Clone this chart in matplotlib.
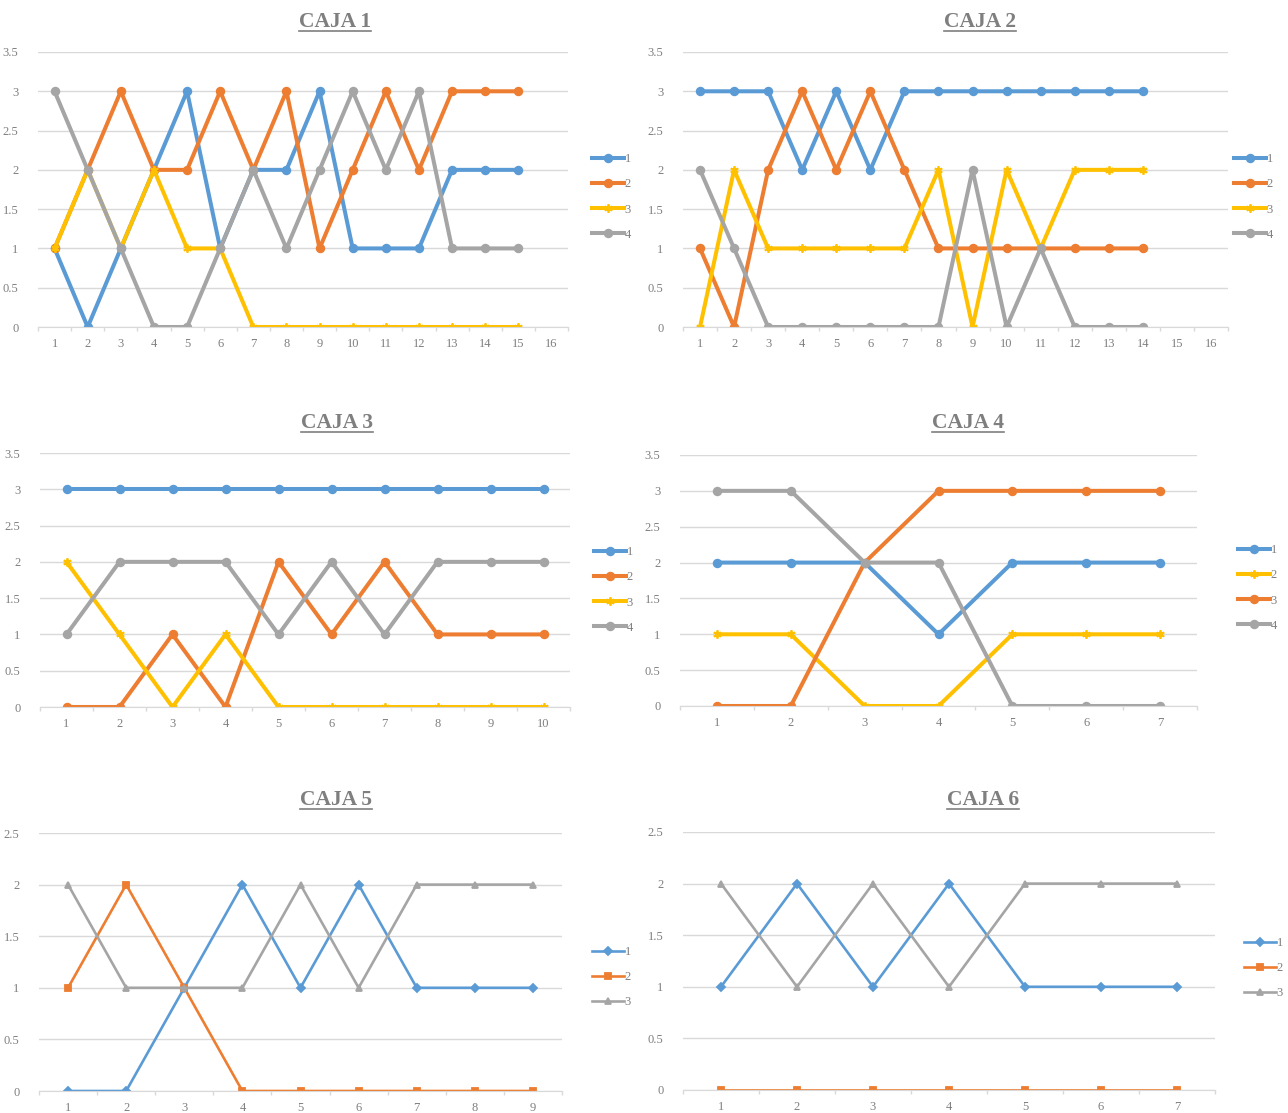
import numpy as np
import matplotlib.pyplot as plt
from matplotlib.lines import Line2D

W, H = 1288, 1113

BLUE = "#5B9BD5"
ORANGE = "#ED7D31"
YELLOW = "#FFC000"
GRAY = "#A5A5A5"
TEXT = "#7F7F7F"
GRID = "#D9D9D9"

# CAJA 1 (16 categories on the axis, 15 with data)
caja1_cats = list(range(1, 17))
caja1_s1 = [1, 0, 1, 2, 3, 1, 2, 2, 3, 1, 1, 1, 2, 2, 2]
caja1_s2 = [1, 2, 3, 2, 2, 3, 2, 3, 1, 2, 3, 2, 3, 3, 3]
caja1_s3 = [1, 2, 1, 2, 1, 1, 0, 0, 0, 0, 0, 0, 0, 0, 0]
caja1_s4 = [3, 2, 1, 0, 0, 1, 2, 1, 2, 3, 2, 3, 1, 1, 1]

# CAJA 2 (16 categories, 14 with data)
caja2_cats = list(range(1, 17))
caja2_s1 = [3, 3, 3, 2, 3, 2, 3, 3, 3, 3, 3, 3, 3, 3]
caja2_s2 = [1, 0, 2, 3, 2, 3, 2, 1, 1, 1, 1, 1, 1, 1]
caja2_s3 = [0, 2, 1, 1, 1, 1, 1, 2, 0, 2, 1, 2, 2, 2]
caja2_s4 = [2, 1, 0, 0, 0, 0, 0, 0, 2, 0, 1, 0, 0, 0]

# CAJA 3
caja3_cats = list(range(1, 11))
caja3_s1 = [3, 3, 3, 3, 3, 3, 3, 3, 3, 3]
caja3_s2 = [0, 0, 1, 0, 2, 1, 2, 1, 1, 1]
caja3_s3 = [2, 1, 0, 1, 0, 0, 0, 0, 0, 0]
caja3_s4 = [1, 2, 2, 2, 1, 2, 1, 2, 2, 2]

# CAJA 4
caja4_cats = list(range(1, 8))
caja4_s1 = [2, 2, 2, 1, 2, 2, 2]
caja4_s2 = [1, 1, 0, 0, 1, 1, 1]
caja4_s3 = [0, 0, 2, 3, 3, 3, 3]
caja4_s4 = [3, 3, 2, 2, 0, 0, 0]

# CAJA 5
caja5_cats = list(range(1, 10))
caja5_s1 = [0, 0, 1, 2, 1, 2, 1, 1, 1]
caja5_s2 = [1, 2, 1, 0, 0, 0, 0, 0, 0]
caja5_s3 = [2, 1, 1, 1, 2, 1, 2, 2, 2]

# CAJA 6
caja6_cats = list(range(1, 8))
caja6_s1 = [1, 2, 1, 2, 1, 1, 1]
caja6_s2 = [0, 0, 0, 0, 0, 0, 0]
caja6_s3 = [2, 1, 2, 1, 2, 2, 2]

series_labels4 = ["1", "2", "3", "4"]
series_labels3 = ["1", "2", "3"]

ASTER = (6, 2, 0)

thick = dict(lw=2.9, ms=5.5)
thin = dict(lw=1.9, ms=5)

plt.rcParams["font.family"] = ["Liberation Serif", "DejaVu Serif"]

fig = plt.figure(figsize=(W / 100, H / 100), dpi=100)


def px_rect(x0, x1, ytop, ybot):
    return [x0 / W, 1 - ybot / H, (x1 - x0) / W, (ybot - ytop) / H]


def panel(rect, title, title_xy, cats, ymax, series, styles, labels, leg_xy, width):
    ax = fig.add_axes(px_rect(*rect))
    for vals, (color, marker, msz) in zip(series, styles):
        x = np.arange(1, len(vals) + 1)
        ax.plot(x, vals, color=color, lw=width["lw"], marker=marker,
                ms=width["ms"] * msz, mew=1.3, mfc=color, mec=color,
                solid_joinstyle="round")
    n = len(cats)
    ax.set_xlim(0.5, n + 0.5)
    ax.set_ylim(0, ymax)
    ax.set_xticks(np.arange(1, n + 1))
    ax.set_xticklabels([str(c) for c in cats])
    ax.set_xticks(np.arange(0.5, n + 1.0, 1.0), minor=True)
    yt = np.arange(0, ymax + 0.01, 0.5)
    ax.set_yticks(yt)
    ax.set_yticklabels([f"{v:g}" for v in yt])
    ax.yaxis.grid(True, color=GRID, lw=1)
    ax.set_axisbelow(True)
    for s in ["top", "right", "left"]:
        ax.spines[s].set_visible(False)
    ax.spines["bottom"].set_color(GRID)
    ax.tick_params(axis="y", length=0, pad=14, labelsize=9, labelcolor=TEXT)
    ax.tick_params(axis="x", which="major", length=0, pad=8, labelsize=9, labelcolor=TEXT)
    ax.tick_params(axis="x", which="minor", length=3, color=GRID, width=1)

    handles = [Line2D([], [], color=c, lw=width["lw"], marker=m,
                      ms=width["ms"] * sz, mfc=c, mec=c, mew=1.3)
               for c, m, sz in styles]
    ax.legend(handles, labels, loc="center left",
              bbox_to_anchor=(leg_xy[0] / W, 1 - leg_xy[1] / H),
              bbox_transform=fig.transFigure, frameon=False,
              handlelength=2.5, handletextpad=0.1, labelspacing=1.05,
              prop={"size": 9}, labelcolor=TEXT, borderpad=0)

    t = fig.text(title_xy[0] / W, 1 - title_xy[1] / H, title, ha="center",
                 va="center", fontsize=15.5, fontweight="bold", color=TEXT)
    return t


st4 = [(BLUE, "o", 1.0), (ORANGE, "o", 1.0), (YELLOW, ASTER, 1.1), (GRAY, "o", 1.0)]
st4b = [(BLUE, "o", 1.0), (YELLOW, ASTER, 1.1), (ORANGE, "o", 1.0), (GRAY, "o", 1.0)]
st3 = [(BLUE, "D", 0.75), (ORANGE, "s", 1.0), (GRAY, "^", 1.0)]

titles = []
titles.append(panel((38, 568, 52, 327), "CAJA 1", (335, 22), caja1_cats, 3.5,
                    [caja1_s1, caja1_s2, caja1_s3, caja1_s4], st4,
                    series_labels4, (586, 197), thick))
titles.append(panel((683, 1228, 52, 327), "CAJA 2", (980, 22), caja2_cats, 3.5,
                    [caja2_s1, caja2_s2, caja2_s3, caja2_s4], st4,
                    series_labels4, (1228, 197), thick))
titles.append(panel((40, 570, 453, 707), "CAJA 3", (337, 423), caja3_cats, 3.5,
                    [caja3_s1, caja3_s2, caja3_s3, caja3_s4], st4,
                    series_labels4, (588, 590), thick))
titles.append(panel((680, 1197, 455, 706), "CAJA 4", (968, 423), caja4_cats, 3.5,
                    [caja4_s1, caja4_s2, caja4_s3, caja4_s4], st4b,
                    series_labels4, (1232, 588), thick))
titles.append(panel((39, 562, 833, 1091), "CAJA 5", (336, 800), caja5_cats, 2.5,
                    [caja5_s1, caja5_s2, caja5_s3], st3,
                    series_labels3, (586, 977), thin))
titles.append(panel((683, 1215, 832, 1090), "CAJA 6", (983, 800), caja6_cats, 2.5,
                    [caja6_s1, caja6_s2, caja6_s3], st3,
                    series_labels3, (1238, 968), thin))

# underline the panel titles
fig.canvas.draw()
r = fig.canvas.get_renderer()
for t in titles:
    bb = t.get_window_extent(r)
    y = (bb.y0 + 1) / H
    fig.add_artist(Line2D([bb.x0 / W, bb.x1 / W], [y, y],
                          transform=fig.transFigure, color=TEXT, lw=1.2))

fig.savefig("out.png", dpi=100)
